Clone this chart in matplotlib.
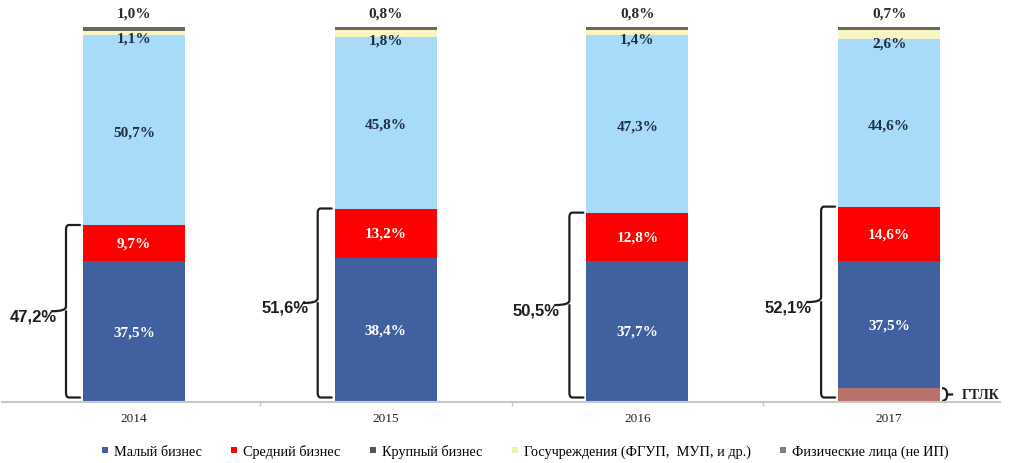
import matplotlib
matplotlib.use("Agg")
import matplotlib.pyplot as plt
from matplotlib.lines import Line2D
from matplotlib.path import Path
from matplotlib.patches import PathPatch

years = ['2014', '2015', '2016', '2017']
small = [37.5, 38.4, 37.7, 37.5]
medium = [9.7, 13.2, 12.8, 14.6]
large = [50.7, 45.8, 47.3, 44.6]
gov = [1.1, 1.8, 1.4, 2.6]
phys = [1.0, 0.8, 0.8, 0.7]
gtlk = [0, 0, 0, 3.7]
sme_total = [47.2, 51.6, 50.5, 52.1]

legend_labels = ['Малый бизнес', 'Средний бизнес', 'Крупный бизнес',
                 'Госучреждения (ФГУП,  МУП, и др.)', 'Физические лица (не ИП)']

c_small = '#40609F'
c_mid = '#FF0000'
c_large = '#A8DAFA'
c_gov = '#F8F5C2'
c_phys = '#6B675C'
c_gtlk = '#B9716B'
legend_colors = [c_small, c_mid, '#555555', '#EEEEBB', '#7F7F7F']

def fmt(v):
    return f"{v:.1f}%".replace('.', ',')

W, H = 1010, 464
fig = plt.figure(figsize=(W / 100, H / 100), dpi=100)
ax_left, ax_right = 2, 1000
ax_bottom, ax_top = 403, 28
ax = fig.add_axes([ax_left / W, (H - ax_bottom) / H, (ax_right - ax_left) / W,
                   (ax_bottom - ax_top) / H])

px_per_unit = 251.7
center0 = 134
xlim = ((ax_left - center0) / px_per_unit, (ax_right - center0) / px_per_unit)
ax.set_xlim(*xlim)
ax.set_ylim(0, 100)

x = list(range(len(years)))
bw = 102 / px_per_unit

small_draw = [s - g for s, g in zip(small, gtlk)]
b0 = [0] * len(x)
b1 = gtlk
b2 = [a + b for a, b in zip(b1, small_draw)]
b3 = [a + b for a, b in zip(b2, medium)]
b4 = [a + b for a, b in zip(b3, large)]
b5 = [a + b for a, b in zip(b4, gov)]

ax.bar(x, gtlk, bw, bottom=b0, color=c_gtlk, linewidth=0)
ax.bar(x, small_draw, bw, bottom=b1, color=c_small, linewidth=0)
ax.bar(x, medium, bw, bottom=b2, color=c_mid, linewidth=0)
ax.bar(x, large, bw, bottom=b3, color=c_large, linewidth=0)
ax.bar(x, gov, bw, bottom=b4, color=c_gov, linewidth=0)
ax.bar(x, phys, bw, bottom=b5, color=c_phys, linewidth=0)

serif = 'Liberation Serif'
for i in x:
    ax.text(i, b1[i] + small_draw[i] / 2, fmt(small[i]), ha='center', va='center',
            color='white', fontsize=11, fontweight='bold', family=serif)
    ax.text(i, b2[i] + medium[i] / 2, fmt(medium[i]), ha='center', va='center',
            color='white', fontsize=11, fontweight='bold', family=serif)
    ax.text(i, b3[i] + large[i] / 2 - 0.5, fmt(large[i]), ha='center', va='center',
            color='#1F2F45', fontsize=11, fontweight='bold', family=serif)
    ax.text(i, b4[i] - 0.9, fmt(gov[i]), ha='center', va='center',
            color='#1F2F45', fontsize=11, fontweight='bold', family=serif, clip_on=False)
    ax.text(i, 103.7, fmt(phys[i]), ha='center', va='center',
            color='#2A2A2A', fontsize=11, fontweight='bold', family=serif, clip_on=False)


def brace_left(xv, xh, xtip, y0, y1, r_y=1.2, r_x=0.012):
    mid = (y0 + y1) / 2
    verts = [(xh, y1), (xv + r_x, y1), (xv, y1), (xv, y1 - r_y),
             (xv, mid + r_y), (xv, mid), (xtip, mid),
             (xv, mid), (xv, mid - r_y),
             (xv, y0 + r_y), (xv, y0), (xv + r_x, y0), (xh, y0)]
    codes = [Path.MOVETO, Path.LINETO, Path.CURVE3, Path.CURVE3,
             Path.LINETO, Path.CURVE3, Path.CURVE3,
             Path.MOVETO, Path.CURVE3,
             Path.LINETO, Path.CURVE3, Path.CURVE3, Path.LINETO]
    p = PathPatch(Path(verts, codes), fill=False, edgecolor='#1E1E1E', lw=1.6,
                  clip_on=False, capstyle='round', joinstyle='round')
    ax.add_patch(p)


for i in x:
    left = i - bw / 2
    xv = left - 17 / px_per_unit
    xh = left - 3 / px_per_unit
    xtip = left - 31 / px_per_unit
    y0 = 1.2
    brace_left(xv, xh, xtip, y0, sme_total[i])
    ax.text(left - 50 / px_per_unit, (y0 + sme_total[i]) / 2 - 1.2, fmt(sme_total[i]),
            ha='center', va='center', fontsize=12, fontweight='bold',
            family='Liberation Sans', color='#1E1E1E')

# ГТЛК brace on the right of the last bar
i = 3
right = i + bw / 2
rv = right + 7 / px_per_unit
rh = right + 2 / px_per_unit
rt = right + 13 / px_per_unit
y0, y1 = 0.3, gtlk[i]
mid = (y0 + y1) / 2
verts = [(rh, y1), (rv, y1), (rv, mid), (rt, mid), (rv, mid), (rv, y0), (rh, y0)]
codes = [Path.MOVETO, Path.CURVE3, Path.CURVE3, Path.LINETO, Path.MOVETO,
         Path.CURVE3, Path.CURVE3]
ax.add_patch(PathPatch(Path(verts, codes), fill=False, edgecolor='#1E1E1E', lw=1.6,
                       clip_on=False))
ax.text(right + 22 / px_per_unit, mid, 'ГТЛК', ha='left', va='center', fontsize=10,
        fontweight='bold', family=serif, color='#1E1E1E', clip_on=False)

for s in ['top', 'right', 'left']:
    ax.spines[s].set_visible(False)
ax.spines['bottom'].set_color('#C8C8C8')
ax.spines['bottom'].set_linewidth(1.5)
ax.set_yticks([])
ax.set_xticks(x)
ax.set_xticklabels(years, family=serif, fontsize=9.5, color='#222222')
ax.tick_params(axis='x', length=0, pad=7)
ax.set_xticks([0.5, 1.5, 2.5], minor=True)
ax.tick_params(axis='x', which='minor', length=3, color='#C8C8C8', width=1)

handles = [Line2D([], [], marker='s', linestyle='', markersize=5, color=c,
                  markeredgewidth=0) for c in legend_colors]
fig.legend(handles, legend_labels, loc='center left', bbox_to_anchor=(0.087, 0.025),
           ncol=5, frameon=False, prop={'family': serif, 'size': 10.3},
           handlelength=0.6, handletextpad=0.3, columnspacing=2.0)

fig.savefig('out.png', dpi=100)
